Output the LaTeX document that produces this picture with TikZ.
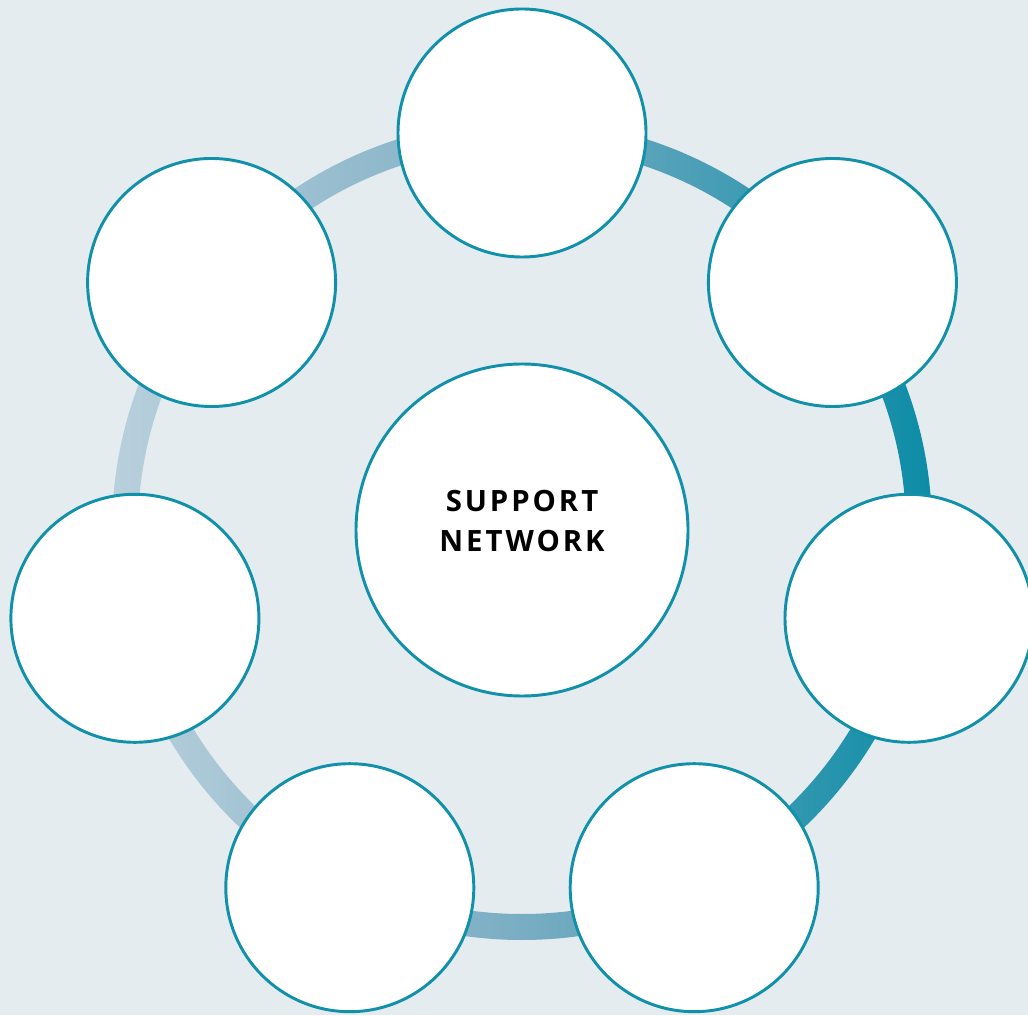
\documentclass[tikz,border=0pt]{standalone}
\usepackage{fontspec}
\setmainfont{Open Sans}
\newfontfamily\hubfont[LetterSpace=10]{Open Sans}
\usetikzlibrary{positioning}
\definecolor{bgblue}{HTML}{E4ECF0}
\definecolor{rimteal}{HTML}{1190A9}
\definecolor{ringlight}{HTML}{B9D0DC}
\definecolor{ringmid}{HTML}{7AADC3}
\definecolor{ringdark}{HTML}{0C8CA6}
\tikzstyle{petal} = [circle, minimum size=186pt, inner sep=0pt, draw=rimteal, line width=2.2pt, fill=white]
\tikzstyle{hub} = [circle, minimum size=249pt, inner sep=0pt, draw=rimteal, line width=2.2pt, fill=white, align=center, text depth=13pt, font=\hubfont\bfseries\fontsize{22pt}{30pt}\selectfont]

\begin{document}
\begin{tikzpicture}[x=0.75pt, y=0.75pt]
			\fill[bgblue] (0,0) rectangle (1028,1015);
			\useasboundingbox (0,0) rectangle (1028,1015);
			\coordinate (middle) at (522,485);
			
			% ring behind the circles
			\shade[left color=ringlight, right color=ringdark, middle color=ringmid, even odd rule]
				(middle) circle (410) (middle) circle (384);
			
			\node[hub] (hub) at (middle) {SUPPORT\\NETWORK};
			
			\node[petal] (1) at (522,882) {};
			\node[petal] (2) at (832.4,732.5) {};
			\node[petal] (3) at (909,396.7) {};
			\node[petal] (4) at (694.2,127.3) {};
			\node[petal] (5) at (349.8,127.3) {};
			\node[petal] (6) at (134.9,396.7) {};
			\node[petal] (7) at (211.6,732.5) {};
			
		\end{tikzpicture}
\end{document}
